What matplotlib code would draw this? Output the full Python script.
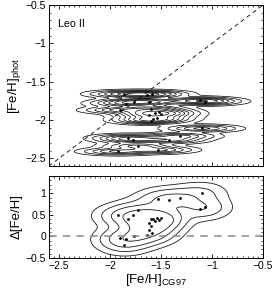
import numpy as np
import matplotlib
matplotlib.use('Agg')
import matplotlib.pyplot as plt
from matplotlib.ticker import MultipleLocator

plt.rcParams['font.family'] = ['Liberation Sans', 'DejaVu Sans']
plt.rcParams['mathtext.default'] = 'regular'

# [Fe/H] spectroscopique (CG97) et photometrique
feh_cg97 = [-1.92, -1.90, -1.845, -1.86, -1.82, -1.77, -1.73, -1.76, -1.64, -1.59,
            -1.62, -1.60, -1.62, -1.60, -1.58, -1.54, -1.555, -1.495, -1.52,
            -1.53, -1.42, -1.31, -1.10, -1.12, -1.07]
feh_phot = [-2.41, -1.87, -1.785, -1.66, -2.23, -2.26, -2.34, -1.76, -1.67, -1.66,
            -1.76, -1.85, -1.93, -2.01, -1.99, -1.97, -1.905, -1.925, -1.89,
            -2.39, -2.26, -2.21, -2.11, -1.745, -1.76]
sig_x = 0.17   # largeur des ellipses (erreur CG97)
sig_y = 0.024  # erreur photometrique

cg = np.array(feh_cg97)
ph = np.array(feh_phot)
dfeh = cg - ph

fig = plt.figure(figsize=(2.73, 2.92), dpi=100)
ax1 = fig.add_axes([0.179, 0.4315, 0.784, 0.551])
ax2 = fig.add_axes([0.179, 0.1164, 0.784, 0.281])

# panneau du haut : somme des gaussiennes de chaque etoile
gx = np.linspace(-2.6, -0.5, 500)
gy = np.linspace(-2.6, -0.5, 700)
X, Y = np.meshgrid(gx, gy)
Z = np.zeros_like(X)
for x0, y0 in zip(cg, ph):
    Z += np.exp(-0.5 * ((X - x0) / sig_x) ** 2 - 0.5 * ((Y - y0) / sig_y) ** 2)
ax1.contour(X, Y, Z, levels=[0.04, 0.15, 0.35, 0.6, 0.9, 1.3, 1.8, 2.5],
            colors='k', linewidths=0.5)
ax1.plot(cg, ph, 'k.', ms=2)
ax1.plot([-2.6, -0.5], [-2.6, -0.5], 'k--', lw=0.6, dashes=(5, 4))
ax1.set_xlim(-2.6, -0.5)
ax1.set_ylim(-2.6, -0.5)
ax1.set_xticklabels([])
ax1.set_ylabel('[Fe/H]$_{phot}$', fontsize=9.5, labelpad=2)
ax1.text(0.045, 0.88, 'Leo II', transform=ax1.transAxes, fontsize=7.7, va='center')

# panneau du bas : densite (KDE) des ecarts
hx, hy = 0.15, 0.15
bx = np.linspace(-2.6, -0.5, 300)
by = np.linspace(-0.5, 1.4, 300)
BX, BY = np.meshgrid(bx, by)
D = np.zeros_like(BX)
for x0, y0 in zip(cg, dfeh):
    D += np.exp(-0.5 * ((BX - x0) / hx) ** 2 - 0.5 * ((BY - y0) / hy) ** 2)
D /= D.max()
ax2.contour(BX, BY, D, levels=[0.035, 0.11, 0.24, 0.45], colors='0.1', linewidths=0.6)
ax2.plot(cg, dfeh, 'k.', ms=2)
ax2.axhline(0, color='0.55', lw=1.1, ls='--', dashes=(5, 4))
ax2.set_xlim(-2.6, -0.5)
ax2.set_ylim(-0.5, 1.4)
ax2.set_xlabel('[Fe/H]$_{CG97}$', fontsize=9.5, labelpad=1)
ax2.set_ylabel('Δ[Fe/H]', fontsize=9.5, labelpad=2)

for ax in (ax1, ax2):
    ax.xaxis.set_major_locator(MultipleLocator(0.5))
    ax.xaxis.set_minor_locator(MultipleLocator(0.05))
    ax.yaxis.set_major_locator(MultipleLocator(0.5))
    ax.yaxis.set_minor_locator(MultipleLocator(0.1))
    ax.tick_params(which='both', direction='in', top=True, right=True, labelsize=7.5, pad=2)
    ax.tick_params(which='major', length=3, width=0.6)
    ax.tick_params(which='minor', length=1.5, width=0.5)
    for s in ax.spines.values():
        s.set_linewidth(0.7)

ax1.set_yticks([-2.5, -2, -1.5, -1, -0.5])
ax1.set_yticklabels(['−2.5', '−2', '−1.5', '−1', '−0.5'])
ax2.set_yticks([-0.5, 0, 0.5, 1])
ax2.set_yticklabels(['−0.5', '0', '0.5', '1'])
ax2.set_xticks([-2.5, -2, -1.5, -1, -0.5])
ax2.set_xticklabels(['−2.5', '−2', '−1.5', '−1', '−0.5'])

fig.savefig('out.png', dpi=100)
